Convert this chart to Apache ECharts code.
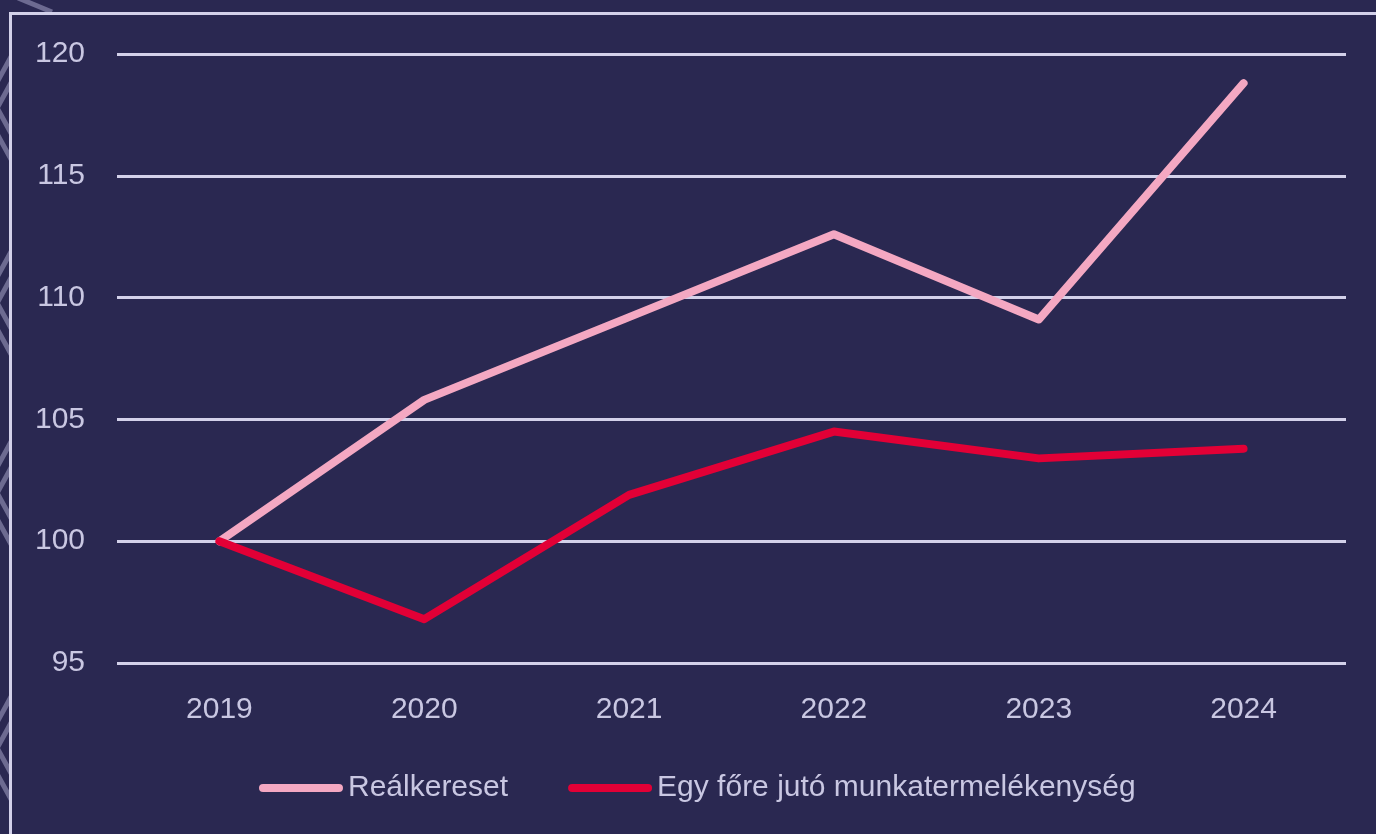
<!DOCTYPE html>
<html>
<head>
<meta charset="utf-8">
<script src="https://cdn.jsdelivr.net/npm/echarts@6/dist/echarts.min.js"></script>
<style>
html,body{margin:0;padding:0;background:#2a2851;}
#main{width:1376px;height:834px;}
</style>
</head>
<body>
<div id="main"></div>
<script>
var years = ['2019', '2020', '2021', '2022', '2023', '2024'];
var realkereset = [100, 105.8, 109.2, 112.6, 109.1, 118.8];
var termelekenyseg = [100, 96.8, 101.9, 104.5, 103.4, 103.8];
var seriesNames = ['Reálkereset', 'Egy főre jutó munkatermelékenység'];
var yTicks = {min: 95, max: 120, interval: 5};

var bg = '#2a2851';
var lav = '#d3d1ea';
var txt = '#c9c7e2';
var font = '"Liberation Sans", Arial, sans-serif';
var pillIcon = 'path://M4,0 H79 A4,4 0 0 1 79,8 H4 A4,4 0 0 1 4,0 Z';

// decoration left of the frame
var chevrons = [];
[95, 290, 480, 735].forEach(function(c){
	[0, 26].forEach(function(off){
		chevrons.push({
			type: 'polyline',
			z: -2,
			shape: {points: [[12, c - 40 + off], [-10, c + off], [12, c + 40 + off]]},
			style: {stroke: 'rgba(190,188,225,0.45)', lineWidth: 5, fill: null}
		});
	});
});

var myChart = echarts.init(document.getElementById('main'));
var option = {
	backgroundColor: bg,
	animation: false,
	graphic: chevrons.concat([{
		type: 'line',
		z: -2,
		shape: {x1: 18, y1: -2, x2: 52, y2: 12},
		style: {stroke: 'rgba(190,188,225,0.45)', lineWidth: 5}
	}, {
		type: 'rect',
		z: -1,
		shape: {x: 10.5, y: 13.5, width: 1420, height: 900},
		style: {fill: bg, stroke: lav, lineWidth: 3}
	}]),
	grid: {
		left: 117,
		right: 30,
		top: 54,
		bottom: 171,
		containLabel: false
	},
	legend: {
		left: 254,
		top: 768,
		itemWidth: 84,
		itemHeight: 9,
		itemGap: 60,
		textStyle: {color: txt, fontSize: 30, fontFamily: font},
		data: [
			{name: seriesNames[0], icon: pillIcon},
			{name: seriesNames[1], icon: pillIcon}
		]
	},
	xAxis: {
		type: 'category',
		data: years,
		boundaryGap: true,
		z: 2,
		axisLine: {show: false},
		axisTick: {show: false},
		axisLabel: {color: txt, fontSize: 30, fontFamily: font, margin: 32}
	},
	yAxis: {
		type: 'value',
		min: yTicks.min,
		max: yTicks.max,
		interval: yTicks.interval,
		z: 2,
		axisLine: {show: false},
		axisTick: {show: false},
		axisLabel: {color: txt, fontSize: 30, fontFamily: font, margin: 32},
		splitLine: {lineStyle: {color: lav, width: 3}}
	},
	series: [{
		name: seriesNames[0],
		type: 'line',
		data: realkereset,
		showSymbol: false,
		itemStyle: {color: '#f4a8c2'},
		lineStyle: {color: '#f4a8c2', width: 8, cap: 'round', join: 'round'},
		z: 3
	}, {
		name: seriesNames[1],
		type: 'line',
		data: termelekenyseg,
		showSymbol: false,
		itemStyle: {color: '#e20036'},
		lineStyle: {color: '#e20036', width: 8, cap: 'round', join: 'round'},
		z: 4
	}]
};
myChart.setOption(option);
</script>
</body>
</html>
